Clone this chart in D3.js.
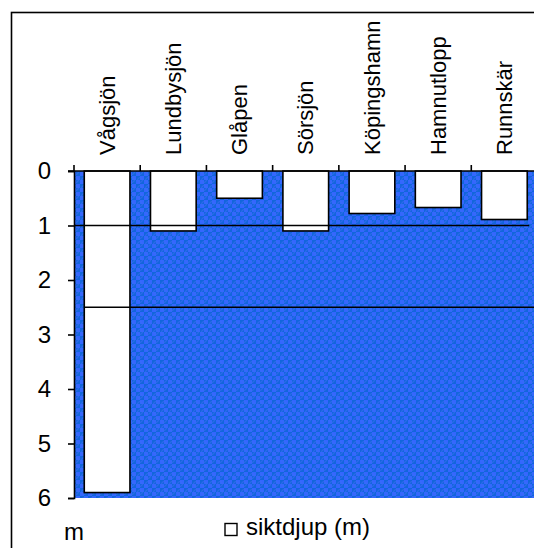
<!DOCTYPE html>
<html>
<head>
<meta charset="utf-8">
<script src="https://cdn.jsdelivr.net/npm/d3@7"></script>
<style>
  html, body { margin: 0; padding: 0; background: #fff; }
  svg { display: block; font-family: "Liberation Sans", Arial, sans-serif; }
</style>
</head>
<body>
<svg id="chart" width="534" height="548"></svg>
<script>
// Siktdjup (Secchi depth) per sampling site, metres
const categories = ["Vågsjön", "Lundbysjön", "Glåpen", "Sörsjön", "Köpingshamn", "Hamnutlopp", "Runnskär"];
const siktdjup = [5.9, 1.1, 0.5, 1.1, 0.78, 0.67, 0.89];
const yTicks = [0, 1, 2, 3, 4, 5, 6];
const refLevels = [1, 2.5];
const legendLabel = "siktdjup (m)";
const unitLabel = "m";

const svg = d3.select("#chart");
const W = 534, H = 548;

const plot = { left: 74, right: 537.5, top: 171, bottom: 498 };

const x = d3.scaleBand()
  .domain(categories)
  .range([plot.left, plot.right])
  .paddingInner(0.31)
  .paddingOuter(0.155);
const step = x.step();

const y = d3.scaleLinear().domain([0, 6]).range([plot.top, plot.bottom]);

// textured blue water fill
const defs = svg.append("defs");
const pat = defs.append("pattern")
  .attr("id", "water")
  .attr("patternUnits", "userSpaceOnUse")
  .attr("width", 8).attr("height", 8);
pat.append("rect").attr("width", 8).attr("height", 8).attr("fill", "#3366ff");
pat.append("rect").attr("x", 0).attr("y", 0).attr("width", 4).attr("height", 4).attr("fill", "#1266dc");
pat.append("rect").attr("x", 4).attr("y", 4).attr("width", 4).attr("height", 4).attr("fill", "#1266dc");
pat.append("circle").attr("cx", 4).attr("cy", 4).attr("r", 2.4).attr("fill", "none").attr("stroke", "#3a6cf4").attr("stroke-width", 0.8);

// outer chart frame
svg.append("rect")
  .attr("x", 11.5).attr("y", 12.5)
  .attr("width", W + 20).attr("height", H + 20)
  .attr("fill", "none").attr("stroke", "#000").attr("stroke-width", 1.6);

// plot area background
svg.append("rect")
  .attr("x", plot.left).attr("y", plot.top)
  .attr("width", plot.right - plot.left).attr("height", plot.bottom - plot.top)
  .attr("fill", "url(#water)");

// bars
svg.append("g").selectAll("rect")
  .data(categories)
  .join("rect")
  .attr("x", d => x(d))
  .attr("y", y(0))
  .attr("width", x.bandwidth())
  .attr("height", (d, i) => y(siktdjup[i]) - y(0))
  .attr("fill", "#fff")
  .attr("stroke", "#000")
  .attr("stroke-width", 1.6);

// reference levels
const refExtent = [
  [plot.left, x(categories[categories.length - 1]) + x.bandwidth() + 2],
  [x(categories[0]), W]
];
svg.append("g").selectAll("line")
  .data(refLevels)
  .join("line")
  .attr("x1", (d, i) => refExtent[i][0])
  .attr("x2", (d, i) => refExtent[i][1])
  .attr("y1", d => y(d)).attr("y2", d => y(d))
  .attr("stroke", "#000").attr("stroke-width", 1.6);

// y axis (depth)
const yAxis = svg.append("g")
  .attr("transform", `translate(${plot.left},0)`)
  .call(d3.axisLeft(y).tickValues(yTicks).tickSize(6).tickPadding(17).tickFormat(d3.format("d")));
yAxis.select(".domain").attr("stroke", "#000").attr("stroke-width", 1.6);
yAxis.selectAll(".tick line").attr("stroke", "#000").attr("stroke-width", 1.6);
yAxis.selectAll(".tick text").attr("font-size", 24).attr("fill", "#000")
  .attr("font-family", "'Liberation Sans', Arial, sans-serif");

// x axis at the surface, category boundaries ticked upward
const bounds = d3.range(categories.length + 1).map(i => plot.left + i * step);
svg.append("line")
  .attr("x1", plot.left - 6).attr("x2", plot.right)
  .attr("y1", plot.top).attr("y2", plot.top)
  .attr("stroke", "#000").attr("stroke-width", 1.6);
svg.append("g").selectAll("line")
  .data(bounds)
  .join("line")
  .attr("x1", d => d).attr("x2", d => d)
  .attr("y1", plot.top - 6).attr("y2", plot.top)
  .attr("stroke", "#000").attr("stroke-width", 1.6);

// category labels, rotated
svg.append("g").selectAll("text")
  .data(categories)
  .join("text")
  .attr("transform", d => `translate(${x(d) + x.bandwidth() / 2},155) rotate(-90)`)
  .attr("text-anchor", "start")
  .attr("dy", "0.35em")
  .attr("font-size", 22)
  .attr("fill", "#000")
  .text(d => d);

// unit label
svg.append("text")
  .attr("x", 64).attr("y", 540)
  .attr("font-size", 24).attr("fill", "#000")
  .text(unitLabel);

// legend
svg.append("rect")
  .attr("x", 225).attr("y", 523.5)
  .attr("width", 12).attr("height", 12)
  .attr("fill", "#fff").attr("stroke", "#000").attr("stroke-width", 1.4);
svg.append("text")
  .attr("x", 246).attr("y", 535)
  .attr("font-size", 24).attr("fill", "#000")
  .text(legendLabel);
</script>
</body>
</html>
